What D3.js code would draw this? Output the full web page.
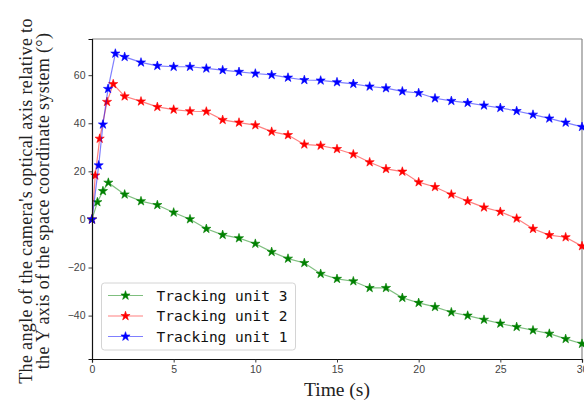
<!DOCTYPE html>
<html>
<head>
<meta charset="utf-8">
<script src="https://cdn.jsdelivr.net/npm/d3@7"></script>
<style>
    body { margin: 0; background: #fff; }
    svg { display: block; }
</style>
</head>
<body>
<div id="chart"></div>
<script>
// values
const unit3Time = [0, 0.33, 0.67, 1.0, 2, 3, 4, 5, 6, 7, 8, 9, 10, 11, 12, 13, 14, 15, 16, 17, 18, 19, 20, 21, 22, 23, 24, 25, 26, 27, 28, 29, 30];
const unit3Angle = [0, 7.2, 11.8, 15.3, 10.4, 7.6, 6.0, 2.9, 0.1, -3.9, -6.4, -7.8, -10.1, -13.5, -16.3, -18.1, -22.6, -24.7, -25.7, -28.5, -28.5, -32.6, -34.7, -36.4, -38.6, -40.0, -41.7, -43.3, -44.7, -46.1, -47.5, -49.7, -51.7];

const unit2Time = [0, 0.2, 0.47, 0.92, 1.3, 2, 3, 4, 5, 6, 7, 8, 9, 10, 11, 12, 13, 14, 15, 16, 17, 18, 19, 20, 21, 22, 23, 24, 25, 26, 27, 28, 29, 30];
const unit2Angle = [0, 18.3, 33.6, 48.9, 56.3, 51.2, 49.1, 46.8, 45.7, 45.0, 44.9, 41.4, 40.3, 39.2, 36.5, 35.1, 31.2, 30.7, 29.3, 27.1, 23.8, 21.0, 19.9, 15.5, 13.5, 10.4, 7.6, 5.0, 3.2, 0.4, -3.9, -6.5, -7.4, -11.1];

const unit1Time = [0, 0.41, 0.67, 0.98, 1.43, 2, 3, 4, 5, 6, 7, 8, 9, 10, 11, 12, 13, 14, 15, 16, 17, 18, 19, 20, 21, 22, 23, 24, 25, 26, 27, 28, 29, 30];
const unit1Angle = [0, 22.5, 39.5, 54.3, 69.0, 67.6, 65.3, 63.9, 63.5, 63.5, 62.8, 62.1, 61.4, 60.7, 60.1, 59.0, 58.0, 57.8, 57.1, 56.4, 55.3, 54.6, 53.3, 52.6, 50.4, 49.3, 48.5, 47.4, 46.4, 45.1, 43.6, 42.0, 40.3, 38.5];

const seriesNames = ["Tracking unit 3", "Tracking unit 2", "Tracking unit 1"];
const seriesColors = ["green", "red", "blue"];
const xTicks = [0, 5, 10, 15, 20, 25, 30];
const yTicks = [-40, -20, 0, 20, 40, 60];

const series = [
    { name: seriesNames[0], color: seriesColors[0], t: unit3Time, v: unit3Angle },
    { name: seriesNames[1], color: seriesColors[1], t: unit2Time, v: unit2Angle },
    { name: seriesNames[2], color: seriesColors[2], t: unit1Time, v: unit1Angle }
];

const W = 584, H = 401;
const margin = {top: 39, right: 2, bottom: 42, left: 92};
const width = W - margin.left - margin.right;
const height = H - margin.top - margin.bottom;

const svg = d3.select("#chart").append("svg")
    .attr("width", W)
    .attr("height", H);

const g = svg.append("g")
    .attr("transform", "translate(" + margin.left + "," + margin.top + ")");

const xScale = d3.scaleLinear().domain([0, 30]).range([0, width]);
const yScale = d3.scaleLinear().domain([-58.05, 75.05]).range([height, 0]);

// frame: top/right spines lighter
g.append("line").attr("x1", 0).attr("x2", width).attr("y1", 0).attr("y2", 0)
    .attr("stroke", "#888").attr("stroke-width", 1.2);
g.append("line").attr("x1", width).attr("x2", width).attr("y1", 0).attr("y2", height)
    .attr("stroke", "#888").attr("stroke-width", 1.2);

// lines and markers
const line = d3.line()
    .x((d) => xScale(d[0]))
    .y((d) => yScale(d[1]));
const star = d3.symbol().type(d3.symbolStar).size(26);

series.forEach((s) => {
    const pts = s.t.map((t, i) => [t, s.v[i]]);
    g.append("path")
        .datum(pts)
        .attr("fill", "none")
        .attr("stroke", s.color)
        .attr("stroke-opacity", 0.5)
        .attr("stroke-width", 1.2)
        .attr("d", line);
    g.selectAll(null)
        .data(pts)
        .enter().append("path")
        .attr("d", star)
        .attr("transform", (d) => "translate(" + xScale(d[0]) + "," + yScale(d[1]) + ")")
        .attr("fill", s.color)
        .attr("stroke", s.color)
        .attr("stroke-width", 0.6);
});

// axes
const xAxis = g.append("g")
    .attr("transform", "translate(0," + height + ")")
    .call(d3.axisBottom(xScale).tickValues(xTicks).tickSize(3.5).tickPadding(3).tickFormat(d3.format("d")));
const yAxis = g.append("g")
    .call(d3.axisLeft(yScale).tickValues(yTicks).tickSize(3.5).tickPadding(3).tickFormat(d3.format("d")));

[xAxis, yAxis].forEach((ax) => {
    ax.select(".domain").attr("stroke", "#111").attr("stroke-width", 1.2);
    ax.selectAll(".tick line").attr("stroke", "#222").attr("stroke-width", 0.9);
    ax.selectAll("text")
        .attr("fill", "#444")
        .style("font-family", "'Liberation Sans', Arial, sans-serif")
        .style("font-size", "10.5px");
});
// matplotlib style minus sign
yAxis.selectAll("text").text((d) => d < 0 ? "\u2212" + Math.abs(d) : d);

// axis titles
svg.append("text")
    .attr("x", margin.left + width / 2)
    .attr("y", 396)
    .attr("text-anchor", "middle")
    .style("font-family", "'Liberation Serif', 'Times New Roman', serif")
    .style("font-size", "19.5px")
    .style("fill", "#222")
    .text("Time (s)");

const ylab = svg.append("text")
    .attr("transform", "translate(32," + (margin.top + height / 2 + 2) + ") rotate(-90)")
    .attr("text-anchor", "middle")
    .style("font-family", "'Liberation Serif', 'Times New Roman', serif")
    .style("font-size", "18px")
    .style("letter-spacing", "0.35px")
    .style("fill", "#222");
ylab.append("tspan").attr("x", 0).attr("y", 0)
    .text("The angle of the camera's optical axis relative to");
ylab.append("tspan").attr("x", 0).attr("y", 17)
    .text("the Y axis of the space coordinate system (\u00b0)");

// legend
const legend = g.append("g").attr("transform", "translate(9.5,244)");
legend.append("rect")
    .attr("width", 194)
    .attr("height", 67)
    .attr("rx", 3)
    .attr("fill", "#fff")
    .attr("fill-opacity", 0.8)
    .attr("stroke", "#d4d4d4")
    .attr("stroke-width", 1);

const rows = legend.selectAll(".legend")
    .data(series)
    .enter().append("g")
    .attr("class", "legend")
    .attr("transform", (d, i) => "translate(0," + (12.5 + i * 20.5) + ")");
rows.append("line")
    .attr("x1", 6.5).attr("x2", 41.5)
    .attr("stroke", (d) => d.color)
    .attr("stroke-opacity", 0.5)
    .attr("stroke-width", 1.2);
rows.append("path")
    .attr("d", star)
    .attr("transform", "translate(24,0)")
    .attr("fill", (d) => d.color)
    .attr("stroke", (d) => d.color)
    .attr("stroke-width", 0.6);
rows.append("text")
    .attr("x", 55)
    .attr("dy", "0.36em")
    .style("font-family", "'DejaVu Sans Mono', monospace")
    .style("font-size", "14.5px")
    .style("fill", "#111")
    .text((d) => d.name);
</script>
</body>
</html>
